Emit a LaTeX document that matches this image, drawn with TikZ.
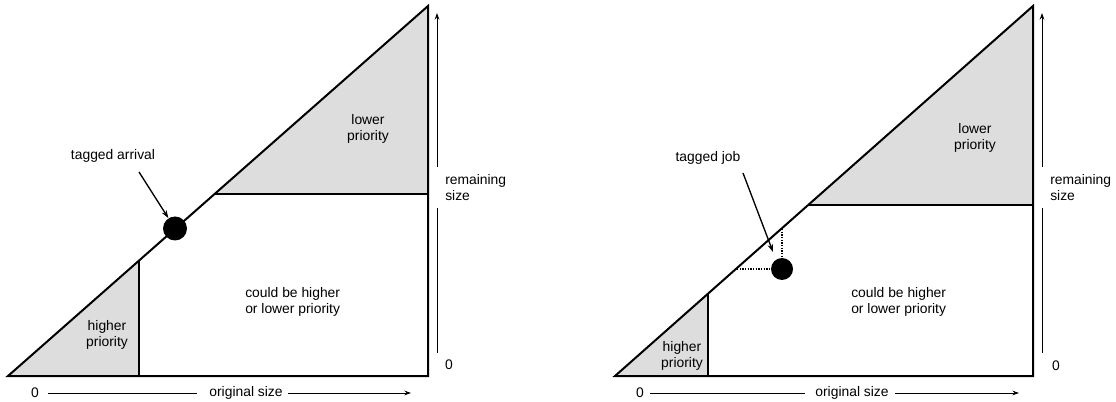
\documentclass[tikz,border=0pt]{standalone}
\usepackage{fontspec}
\setmainfont{Liberation Sans}
\usetikzlibrary{arrows.meta}
\definecolor{shadegray}{RGB}{221,221,221}
\begin{document}
\begin{tikzpicture}[x=0.75pt,y=-0.75pt,
  edge/.style={line width=1.5pt, line join=miter},
  region/.style={fill=shadegray},
  lbl/.style={font=\fontsize{10.4pt}{12pt}\selectfont, align=center, inner sep=0pt},
  lbll/.style={font=\fontsize{10.4pt}{12pt}\selectfont, align=left, inner sep=0pt},
  axisline/.style={line width=0.75pt},
  axarrow/.style={line width=0.75pt, -{Stealth[length=5pt,width=3.5pt]}},
  pointer/.style={line width=1pt, -{Stealth[length=6pt,width=4pt]}},
  bigdot/.style={circle, fill=black, inner sep=0pt, minimum size=#1},
  guide/.style={line width=1pt, dash pattern=on 1pt off 1pt}
]
\useasboundingbox (0,0) rectangle (1116,402);

% ---------------- Left panel ----------------
\coordinate (L0) at (8,376);
\coordinate (L1) at (428,6);
\coordinate (L2) at (428,376);
\coordinate (Lh) at (214.6,194);
\coordinate (Lh2) at (428,194);
\coordinate (Lv) at (139,260.6);
\coordinate (Lv2) at (139,376);
\fill[region] (Lh) -- (L1) -- (Lh2) -- cycle;
\fill[region] (L0) -- (Lv) -- (Lv2) -- cycle;
\draw[edge] (L0) -- (L1) -- (L2) -- cycle;
\draw[edge] (Lh) -- (Lh2);
\draw[edge] (Lv) -- (Lv2);

\node[lbl] (Llow) at (368,129) {lower\\priority};
\node[lbl] (Lhigh) at (107,335) {higher\\priority};
\node[lbll, anchor=west] (Lcould) at (245,302) {could be higher\\or lower priority};

\node[bigdot=18pt] (Ldot) at (175,228.5) {};
\node[lbl] (Ltag) at (113,156) {tagged arrival};
\coordinate (Lps) at (139,172);
\draw[pointer] (Lps) -- (Ldot);

% remaining size axis (left)
\node[lbll, anchor=west] (Lrem) at (445,188) {remaining\\size};
\coordinate (Lra) at (437,167);
\coordinate (Lrt) at (437,13);
\coordinate (Lrb) at (437,208);
\coordinate (Lrc) at (437,353);
\draw[axarrow] (Lra) -- (Lrt);
\draw[axisline] (Lrb) -- (Lrc);
\node[lbl] (Lz1) at (449,365) {0};

% original size axis (left)
\node[lbl] (Lz2) at (35,393) {0};
\node[lbl] (Lorig) at (246,393) {original size};
\coordinate (Loa) at (48,393);
\coordinate (Lob) at (197,393);
\coordinate (Loc) at (288,393);
\coordinate (Lod) at (411,393);
\draw[axisline] (Loa) -- (Lob);
\draw[axarrow] (Loc) -- (Lod);

% ---------------- Right panel ----------------
\coordinate (R0) at (615,376);
\coordinate (R1) at (1033,6);
\coordinate (R2) at (1033,376);
\coordinate (Rh) at (808.2,205);
\coordinate (Rh2) at (1033,205);
\coordinate (Rv) at (708,293.7);
\coordinate (Rv2) at (708,376);
\fill[region] (Rh) -- (R1) -- (Rh2) -- cycle;
\fill[region] (R0) -- (Rv) -- (Rv2) -- cycle;
\draw[edge] (R0) -- (R1) -- (R2) -- cycle;
\draw[edge] (Rh) -- (Rh2);
\draw[edge] (Rv) -- (Rv2);

\node[lbl] (Rlow) at (975,137.5) {lower\\priority};
\node[lbl] (Rhigh) at (682,356) {higher\\priority};
\node[lbll, anchor=west] (Rcould) at (851,302) {could be higher\\or lower priority};

\node[bigdot=16.5pt] (Rdot) at (782,269) {};
\coordinate (Rgh) at (737,269);
\coordinate (Rgv) at (782,229);
\draw[guide] (Rgh) -- (Rdot.west);
\draw[guide] (Rgv) -- (Rdot.north);
\node[lbl] (Rtag) at (708,158) {tagged job};
\coordinate (Rps) at (743,173);
\coordinate (Rpe) at (773,252);
\draw[pointer] (Rps) -- (Rpe);

% remaining size axis (right)
\node[lbll, anchor=west] (Rrem) at (1050,188) {remaining\\size};
\coordinate (Rra) at (1042,167);
\coordinate (Rrt) at (1042,13);
\coordinate (Rrb) at (1042,208);
\coordinate (Rrc) at (1042,353);
\draw[axarrow] (Rra) -- (Rrt);
\draw[axisline] (Rrb) -- (Rrc);
\node[lbl] (Rz1) at (1056,366) {0};

% original size axis (right)
\node[lbl] (Rz2) at (640,393) {0};
\node[lbl] (Rorig) at (852,393) {original size};
\coordinate (Roa) at (650,393);
\coordinate (Rob) at (805,393);
\coordinate (Roc) at (895,393);
\coordinate (Rod) at (1019,393);
\draw[axisline] (Roa) -- (Rob);
\draw[axarrow] (Roc) -- (Rod);
\end{tikzpicture}
\end{document}
